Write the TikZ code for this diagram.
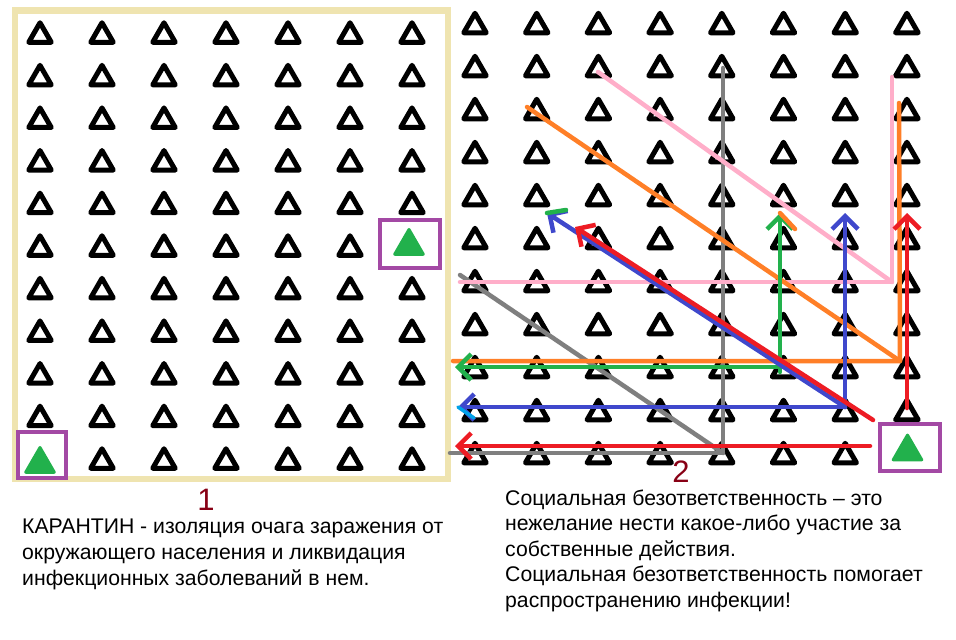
\documentclass[tikz,border=0pt]{standalone}
\usepackage{fontspec}
\setmainfont{Liberation Sans}
\usetikzlibrary{shapes.geometric,arrows.meta}
\definecolor{pgreen}{RGB}{34,177,76}
\definecolor{ppurple}{RGB}{163,73,164}
\definecolor{pbeige}{RGB}{239,228,176}
\definecolor{pgray}{RGB}{127,127,127}
\definecolor{ppink}{RGB}{255,174,201}
\definecolor{porange}{RGB}{255,127,39}
\definecolor{pblue}{RGB}{63,72,204}
\definecolor{pred}{RGB}{237,28,36}
\definecolor{pcyan}{RGB}{0,162,232}
\definecolor{pdarkred}{RGB}{136,0,21}
\tikzset{
  tri/.style={regular polygon, regular polygon sides=3, minimum size=26pt, inner sep=0pt, outer sep=0pt, draw=black, line width=5pt, line join=round},
  gtri/.style={regular polygon, regular polygon sides=3, minimum size=33pt, inner sep=0pt, outer sep=0pt, fill=pgreen, draw=pgreen, line width=3pt, line join=round},
  pbox/.style={draw=ppurple, line width=4pt, inner sep=0pt, outer sep=0pt},
  ln/.style={line width=4.5pt, line cap=round, line join=round},
  arr/.style={ln, -{Straight Barb[length=13pt,width=26pt]}},
  txt/.style={anchor=base west, inner sep=0pt, font=\fontsize{21.2}{26}\selectfont},
  num/.style={anchor=base, inner sep=0pt, text=pdarkred, font=\fontsize{31}{34}\selectfont}
}
\begin{document}
\begin{tikzpicture}[x=1pt,y=-1pt]
\useasboundingbox (0,0) rectangle (956,640);
\fill[white] (0,0) rectangle (956,640);
% beige frame
\draw[pbeige, line width=6.5pt] (15,10.5) rectangle (448,479);
% left grid
\foreach \c in {1,...,7}{\foreach \r in {1,...,11}{
  \ifnum\numexpr\c*100+\r\relax=706 \else\ifnum\numexpr\c*100+\r\relax=111 \else
    \node[tri] (L\c-\r) at ({40+62*(\c-1)},{35.75+42.6*(\r-1)}) {};
  \fi\fi
}}
% right grid
\foreach \c in {1,...,8}{\foreach \r in {1,...,11}{
  \ifnum\numexpr\c*100+\r\relax=811 \else
    \node[tri] (R\c-\r) at ({475+61.7*(\c-1)},{26.25+43*(\r-1)}) {};
  \fi
}}
% infected (green) and their boxes
\node[pbox, minimum width=60pt, minimum height=48pt] (boxA) at (410,244) {};
\node[gtri] (infA) at (409,246) {};
\node[pbox, minimum width=48pt, minimum height=46pt] (boxB) at (42,455) {};
\node[gtri] (infB) at (40,464) {};
\node[pbox, minimum width=60pt, minimum height=47pt] (boxC) at (910,447.5) {};
\node[gtri] (infC) at (907.5,451.6) {};
% coordinates
\coordinate (gA) at (723,68);
\coordinate (gB) at (723,453);
\coordinate (gC) at (450,453);
\coordinate (gD) at (460,275);
\coordinate (pA) at (598,72);
\coordinate (pK) at (892,282);
\coordinate (pC) at (892,77);
\coordinate (pD) at (460,282);
\coordinate (oA) at (527,107);
\coordinate (oK) at (900,361);
\coordinate (oT) at (899,103);
\coordinate (oL) at (453,361);
\coordinate (oX1) at (780,213);
\coordinate (oX2) at (795,229);
\coordinate (grB) at (780,372);
\coordinate (grT) at (780,213);
\coordinate (grK) at (780,367);
\coordinate (grL) at (455,367);
\coordinate (bK) at (845,407);
\coordinate (bT) at (845,213);
\coordinate (bL) at (458,407);
\coordinate (bD) at (547,213);
\coordinate (bDg) at (566,210);
\coordinate (bLc) at (474,418);
\coordinate (rS) at (873,420);
\coordinate (rD) at (575,227);
\coordinate (rV1) at (907,408);
\coordinate (rV2) at (907,213);
\coordinate (rH1) at (870,446);
\coordinate (rH2) at (455,446);
% gray
\draw[ln, pgray] (gA) -- (gB) -- (gC);
\draw[ln, pgray] (gD) -- (gB);
% pink
\draw[ln, ppink] (pC) -- (pK) -- (pD);
\draw[ln, ppink] (pA) -- (pK);
% orange
\draw[ln, porange] (oA) -- (oK);
\draw[ln, porange] (oT) -- (oK) -- (oL);
% green
\draw[arr, pgreen] (grB) -- (grT);
\draw[arr, pgreen] (grK) -- (grL);
\draw[ln, porange] (oX1) -- (oX2);
% blue
\draw[arr, pblue] (bK) -- (bT);
\draw[arr, pblue] (bK) -- (bL);
\draw[arr, pblue] (bK) -- (bD);
\draw[ln, pgreen] (bD) -- (bDg);
\draw[ln, pcyan, line width=3.5pt] (bL) -- (bLc);
% red
\draw[arr, pred] (rS) -- (rD);
\draw[arr, pred] (rV1) -- (rV2);
\draw[arr, pred] (rH1) -- (rH2);
% labels
\node[num] (n1) at (206,510) {1};
\node[num] (n2) at (681,482) {2};
\node[txt] (l1) at (22,533) {КАРАНТИН - изоляция очага заражения от};
\node[txt] (l2) at (22,559) {окружающего населения и ликвидация};
\node[txt] (l3) at (22,585) {инфекционных заболеваний в нем.};
\node[txt] (r1) at (505,505) {Социальная безответственность – это};
\node[txt] (r2) at (505,530.5) {нежелание нести какое-либо участие за};
\node[txt] (r3) at (505,556) {собственные действия.};
\node[txt] (r4) at (505,581.5) {Социальная безответственность помогает};
\node[txt] (r5) at (505,607) {распространению инфекции!};
\end{tikzpicture}
\end{document}
